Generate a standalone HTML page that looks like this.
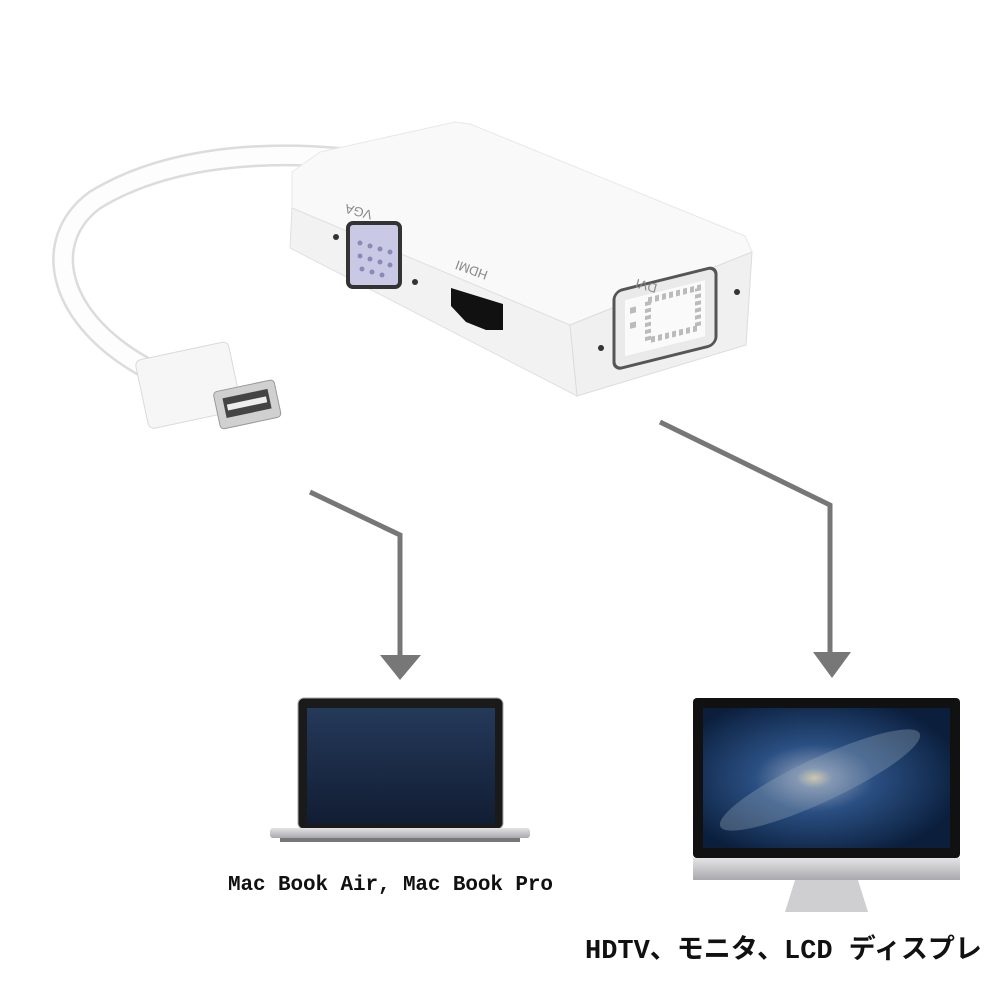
<!DOCTYPE html>
<html><head><meta charset="utf-8"><style>
html,body{margin:0;padding:0;background:#fff;}
svg{display:block}
</style></head><body>
<svg width="1000" height="1000" viewBox="0 0 1000 1000" xmlns="http://www.w3.org/2000/svg">
<defs>
<radialGradient id="gal" cx="0.45" cy="0.5" r="0.6">
<stop offset="0" stop-color="#e8d9a8"/><stop offset="0.12" stop-color="#7a8fb0"/><stop offset="0.4" stop-color="#2a4f82"/><stop offset="1" stop-color="#0b1f3d"/></radialGradient>
<linearGradient id="lap" x1="0" y1="0" x2="0" y2="1"><stop offset="0" stop-color="#25395a"/><stop offset="1" stop-color="#111d33"/></linearGradient>
<linearGradient id="silver" x1="0" y1="0" x2="0" y2="1"><stop offset="0" stop-color="#e4e4e6"/><stop offset="1" stop-color="#a9a9ad"/></linearGradient>
</defs>
<rect width="1000" height="1000" fill="#fff"/>
<path d="M340,158 C250,150 160,160 95,200 C40,240 55,320 150,370" fill="none" stroke="#dcdcdc" stroke-width="22" stroke-linecap="round"/>
<path d="M340,158 C250,150 160,160 95,200 C40,240 55,320 150,370" fill="none" stroke="#fdfdfd" stroke-width="17" stroke-linecap="round"/>
<g transform="rotate(-12 190 390)">
<rect x="142" y="350" width="95" height="70" rx="6" fill="#f6f6f6" stroke="#dadada"/>
<rect x="212" y="397" width="62" height="38" rx="4" fill="#d0d0d0" stroke="#999"/>
<rect x="220" y="405" width="46" height="20" fill="#444"/>
<rect x="223" y="412" width="40" height="6" fill="#eee"/>
</g>
<polygon points="292,172 320,152 455,122 470,124 745,236 752,252 570,325 292,208" fill="#f9f9f9" stroke="#e8e8e8"/>
<polygon points="292,208 570,325 577,396 290,248" fill="#f2f2f2" stroke="#e0e0e0"/>
<polygon points="570,325 752,252 746,345 577,396" fill="#f0f0f0" stroke="#dcdcdc"/>
<rect x="348" y="223" width="52" height="64" rx="5" fill="#c9c9e6" stroke="#333" stroke-width="4"/>
<g fill="#8a8ab8">
<circle cx="360" cy="243" r="2.5"/><circle cx="370" cy="246" r="2.5"/><circle cx="380" cy="249" r="2.5"/><circle cx="390" cy="252" r="2.5"/>
<circle cx="360" cy="256" r="2.5"/><circle cx="370" cy="259" r="2.5"/><circle cx="380" cy="262" r="2.5"/><circle cx="390" cy="265" r="2.5"/>
<circle cx="362" cy="269" r="2.5"/><circle cx="372" cy="272" r="2.5"/><circle cx="382" cy="275" r="2.5"/></g>
<circle cx="336" cy="237" r="3" fill="#333"/><circle cx="415" cy="282" r="3" fill="#333"/>
<text x="388" y="203" font-family="Liberation Sans" font-size="13" fill="#888" transform="rotate(195 381 208)">VGA</text>
<polygon points="451,288 503,304 503,330 486,330 466,322 451,306" fill="#111"/>
<text x="503" y="258" font-family="Liberation Sans" font-size="13" fill="#888" transform="rotate(200 497 266)">HDMI</text>
<rect x="614" y="285" width="102" height="78" rx="8" fill="#eaeaea" stroke="#555" stroke-width="3" transform="skewY(-14) translate(0,160)"/>
<g transform="skewY(-14) translate(0,160)">
<rect x="625" y="296" width="80" height="56" fill="#fafafa"/>
<g fill="#bbb">
<rect x="630" y="305" width="6" height="6"/><rect x="630" y="320" width="6" height="6"/>
<rect x="648" y="302" width="50" height="40" fill="none" stroke="#bbb" stroke-dasharray="4 3" stroke-width="6"/>
</g></g>
<circle cx="601" cy="348" r="3" fill="#333"/><circle cx="737" cy="292" r="3" fill="#333"/>
<text x="640" y="268" font-family="Liberation Sans" font-size="13" fill="#888" transform="rotate(195 650 275)">DVI</text>
<polyline points="310,492 400,535 400,658" fill="none" stroke="#777" stroke-width="5"/>
<polygon points="380,655 421,655 400,680" fill="#777"/>
<polyline points="660,422 830,505 830,652" fill="none" stroke="#777" stroke-width="5"/>
<polygon points="813,652 851,652 832,678" fill="#777"/>
<rect x="298" y="698" width="205" height="131" rx="6" fill="#1a1a1a" stroke="#aaa"/>
<rect x="307" y="708" width="188" height="116" fill="url(#lap)"/>
<rect x="270" y="828" width="260" height="10" rx="3" fill="url(#silver)"/>
<rect x="280" y="838" width="240" height="4" fill="#777"/>
<rect x="693" y="698" width="267" height="160" rx="4" fill="#111"/>
<rect x="703" y="708" width="247" height="140" fill="url(#gal)"/>
<ellipse cx="820" cy="780" rx="110" ry="22" fill="#9ab" opacity="0.35" transform="rotate(-25 820 780)"/>
<rect x="693" y="858" width="267" height="22" fill="url(#silver)"/>
<polygon points="795,880 858,880 868,912 785,912" fill="#cfcfd2"/>
<text x="228" y="890" font-family="Liberation Mono, monospace" font-weight="bold" font-size="21" fill="#111" textLength="325">Mac Book Air, Mac Book Pro</text>
<text x="585" y="958" font-family="Liberation Mono, 'Noto Sans CJK JP', monospace" font-weight="bold" font-size="27" fill="#111">HDTV、モニタ、LCD ディスプレ</text>
</svg>
</body></html>
